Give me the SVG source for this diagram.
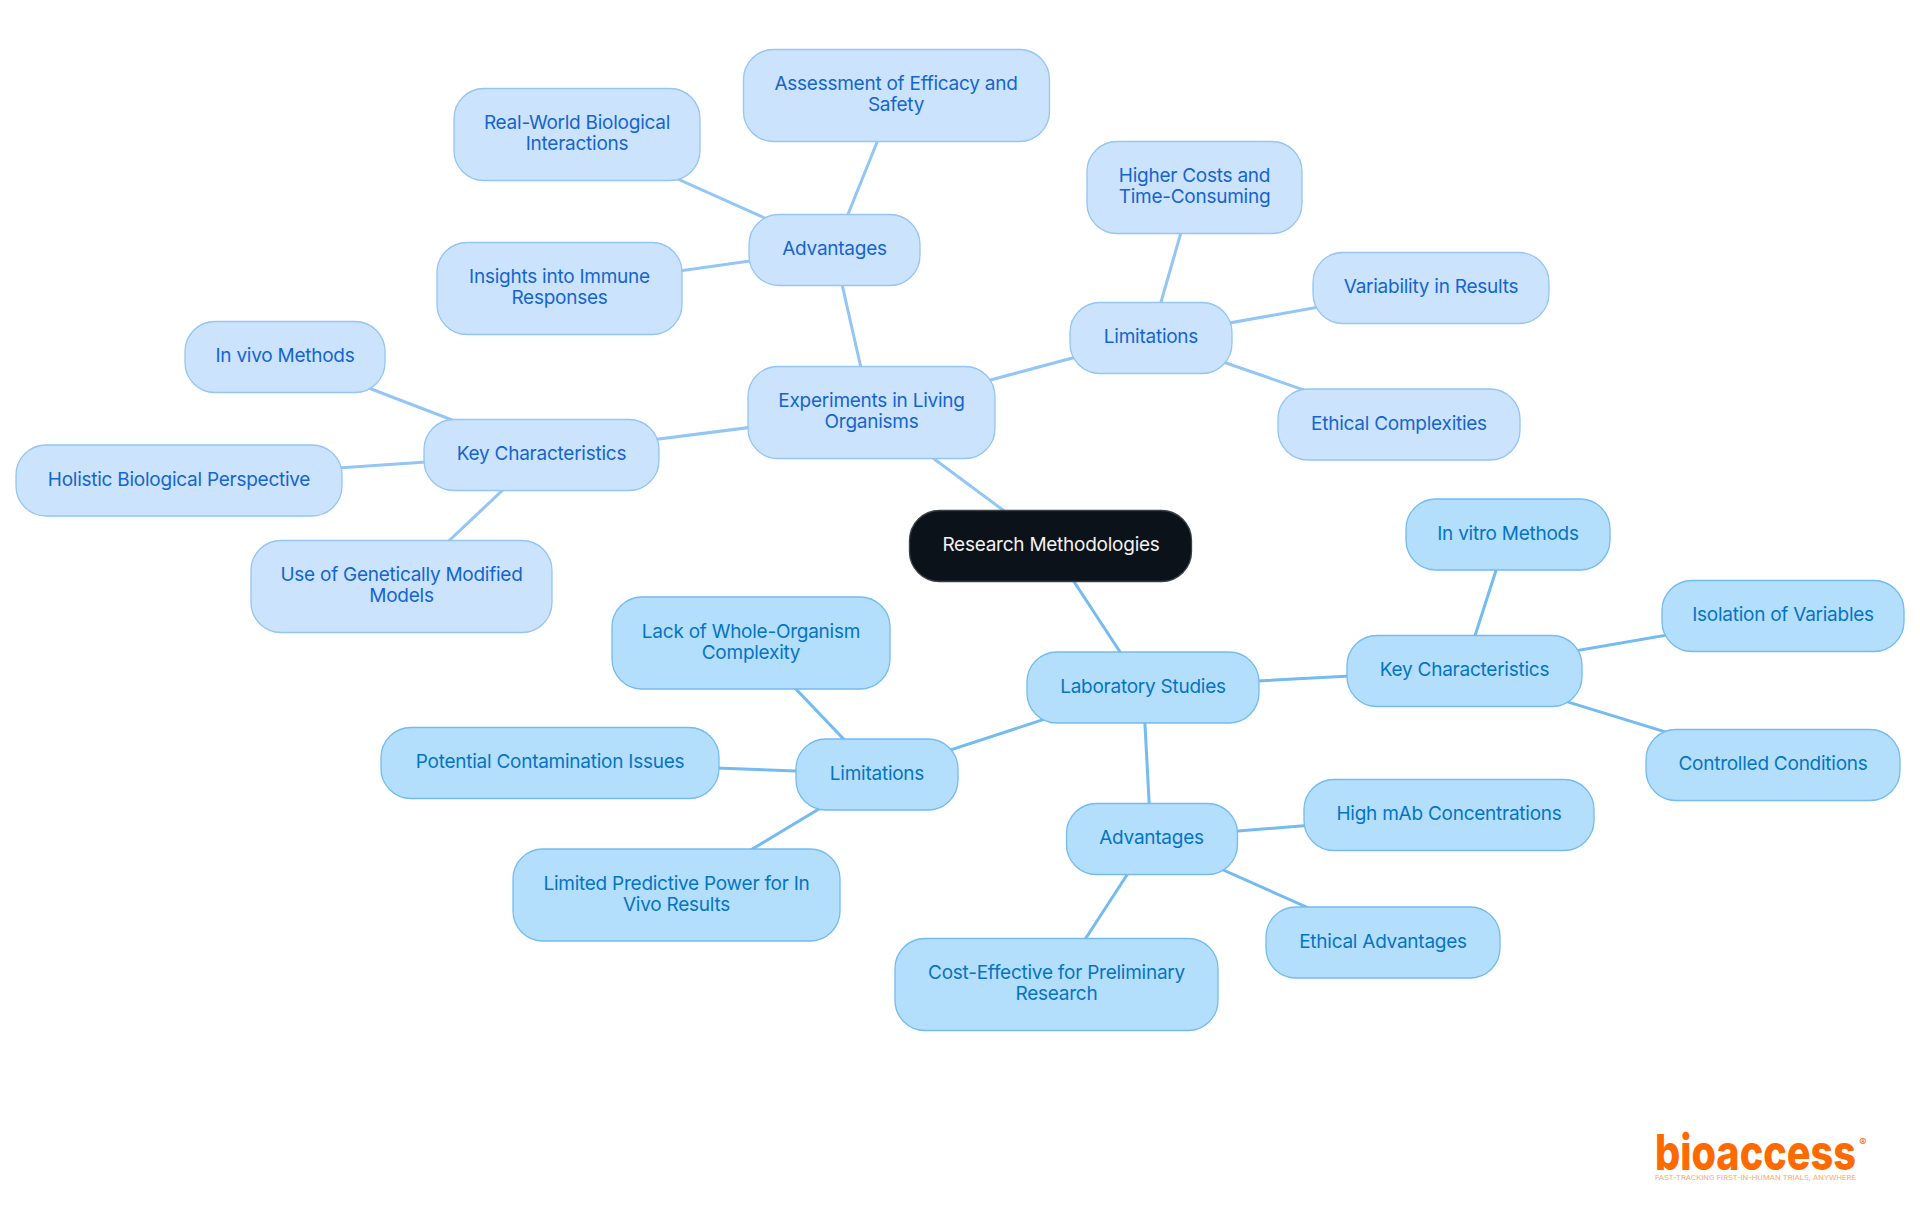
<svg xmlns="http://www.w3.org/2000/svg" width="1920" height="1215" viewBox="0 0 1920 1215">
<style>
text{font-family:Inter,"Noto Sans","Liberation Sans",sans-serif;font-size:19px;text-anchor:middle;letter-spacing:-.25px}
.a rect{fill:#cce3fd;stroke:#93c5f5;stroke-width:1.3}
.a text{fill:#1565d0}
.b rect{fill:#b3dffd;stroke:#74bbf0;stroke-width:1.3}
.b text{fill:#0674c4}
.la{stroke:#93c5f5;stroke-width:3;fill:none}
.lb{stroke:#74bbf0;stroke-width:3;fill:none}
.logo{font-family:Inter,"Liberation Sans",sans-serif;fill:#ff6a00;letter-spacing:0}
</style>
<rect width="1920" height="1215" fill="#fff"/>
<g id="connectors">
<path class="la" d="M1050 545L871 412M871 412L834 249M834 249L896 95M834 249L577 134M834 249L559 288M871 412L1151 337M1151 337L1194 187M1151 337L1431 287M1151 337L1399 423M871 412L541 454M541 454L285 356M541 454L179 479M541 454L401 586"/>
<path class="lb" d="M1050 545L1143 687M1143 687L1464 670M1464 670L1508 533M1464 670L1783 615M1464 670L1773 765M1143 687L877 774M877 774L751 642M877 774L550 762M877 774L676 895M1143 687L1151 838M1151 838L1449 814M1151 838L1383 941M1151 838L1056 984"/>
</g>
<g id="root"><rect x="909.500" y="510.500" width="282" height="71" rx="30" fill="#0b1219" stroke="#3a3f45" stroke-width="1.300"/><text x="1051" y="551" fill="#f2f2f2">Research Methodologies</text></g>
<g id="n1" class="a"><rect x="748" y="366.500" width="247" height="92" rx="30"/><text x="871.500" y="407">Experiments in Living</text><text x="871.500" y="428">Organisms</text></g>
<g id="n2" class="a"><rect x="749" y="214.500" width="171" height="71" rx="30"/><text x="834.500" y="255">Advantages</text></g>
<g id="n3" class="a"><rect x="743.500" y="49.500" width="306" height="92" rx="30"/><text x="896" y="90">Assessment of Efficacy and</text><text x="896" y="111">Safety</text></g>
<g id="n4" class="a"><rect x="454" y="88.500" width="246" height="92" rx="30"/><text x="577" y="129">Real-World Biological</text><text x="577" y="150">Interactions</text></g>
<g id="n5" class="a"><rect x="437" y="242.500" width="245" height="92" rx="30"/><text x="559.500" y="283">Insights into Immune</text><text x="559.500" y="304">Responses</text></g>
<g id="n6" class="a"><rect x="1070" y="302.500" width="162" height="71" rx="30"/><text x="1151" y="343">Limitations</text></g>
<g id="n7" class="a"><rect x="1087" y="141.500" width="215" height="92" rx="30"/><text x="1194.500" y="182">Higher Costs and</text><text x="1194.500" y="203">Time-Consuming</text></g>
<g id="n8" class="a"><rect x="1313" y="252.500" width="236" height="71" rx="30"/><text x="1431" y="293">Variability in Results</text></g>
<g id="n9" class="a"><rect x="1278" y="389" width="242" height="71" rx="30"/><text x="1399" y="430">Ethical Complexities</text></g>
<g id="n10" class="a"><rect x="424" y="419.500" width="235" height="71" rx="30"/><text x="541.500" y="460">Key Characteristics</text></g>
<g id="n11" class="a"><rect x="185" y="321.500" width="200" height="71" rx="30"/><text x="285" y="362">In vivo Methods</text></g>
<g id="n12" class="a"><rect x="16" y="445" width="326" height="71" rx="30"/><text x="179" y="486">Holistic Biological Perspective</text></g>
<g id="n13" class="a"><rect x="251" y="540.500" width="301" height="92" rx="30"/><text x="401.500" y="581">Use of Genetically Modified</text><text x="401.500" y="602">Models</text></g>
<g id="n14" class="b"><rect x="1027" y="652" width="232" height="71" rx="30"/><text x="1143" y="693">Laboratory Studies</text></g>
<g id="n15" class="b"><rect x="1347" y="635.500" width="235" height="71" rx="30"/><text x="1464.500" y="676">Key Characteristics</text></g>
<g id="n16" class="b"><rect x="1406" y="499" width="204" height="71" rx="30"/><text x="1508" y="540">In vitro Methods</text></g>
<g id="n17" class="b"><rect x="1662" y="580.500" width="242" height="71" rx="30"/><text x="1783" y="621">Isolation of Variables</text></g>
<g id="n18" class="b"><rect x="1646" y="729.500" width="254" height="71" rx="30"/><text x="1773" y="770">Controlled Conditions</text></g>
<g id="n19" class="b"><rect x="796" y="739" width="162" height="71" rx="30"/><text x="877" y="780">Limitations</text></g>
<g id="n20" class="b"><rect x="612" y="597" width="278" height="92" rx="30"/><text x="751" y="638">Lack of Whole-Organism</text><text x="751" y="659">Complexity</text></g>
<g id="n21" class="b"><rect x="381" y="727.500" width="338" height="71" rx="30"/><text x="550" y="768">Potential Contamination Issues</text></g>
<g id="n22" class="b"><rect x="513" y="849" width="327" height="92" rx="30"/><text x="676.500" y="890">Limited Predictive Power for In</text><text x="676.500" y="911">Vivo Results</text></g>
<g id="n23" class="b"><rect x="1066.500" y="803.500" width="171" height="71" rx="30"/><text x="1151.500" y="844">Advantages</text></g>
<g id="n24" class="b"><rect x="1304" y="779.500" width="290" height="71" rx="30"/><text x="1449" y="820">High mAb Concentrations</text></g>
<g id="n25" class="b"><rect x="1266" y="907" width="234" height="71" rx="30"/><text x="1383" y="948">Ethical Advantages</text></g>
<g id="n26" class="b"><rect x="895" y="938.500" width="323" height="92" rx="30"/><text x="1056.500" y="979">Cost-Effective for Preliminary</text><text x="1056.500" y="1000">Research</text></g>
<g id="logo">
<text class="logo" x="1755.500" y="1170" textLength="201" lengthAdjust="spacingAndGlyphs" style="font-size:50px;font-weight:800">bioaccess</text>
<text class="logo" x="1863" y="1146" style="font-size:11px;font-weight:700">®</text>
<text class="logo" x="1755.500" y="1180" textLength="201" lengthAdjust="spacingAndGlyphs" style="font-size:6px;fill:#ffa366">FAST-TRACKING FIRST-IN-HUMAN TRIALS, ANYWHERE</text>
</g>
</svg>
